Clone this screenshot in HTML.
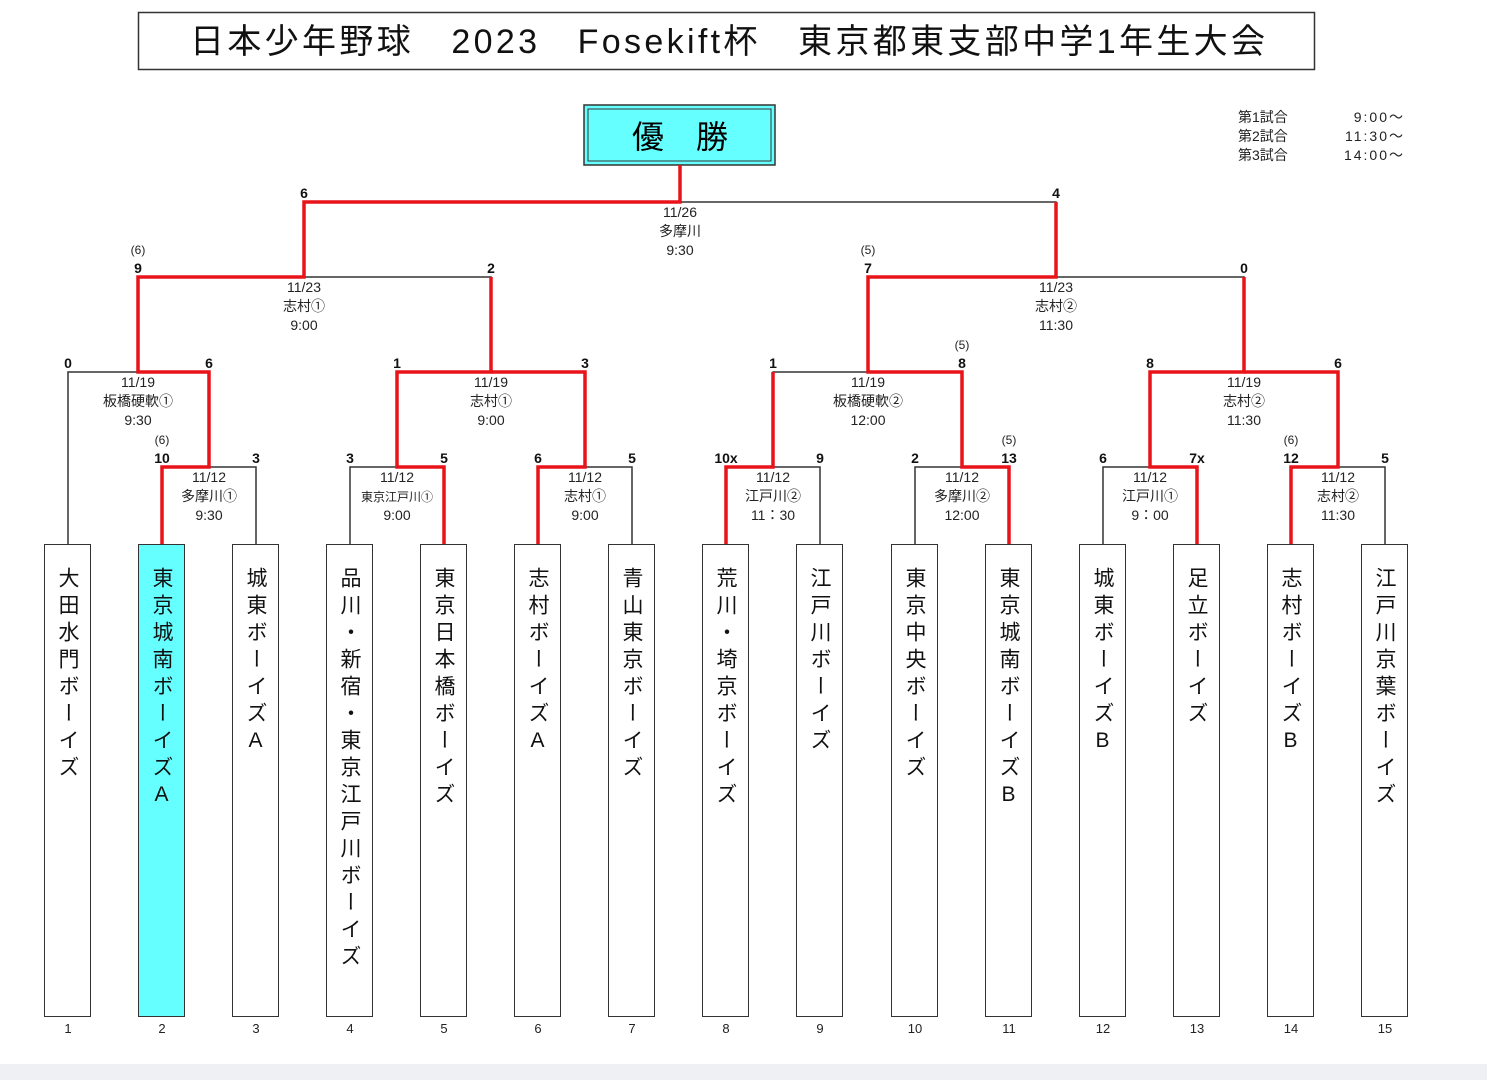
<!DOCTYPE html>
<html><head><meta charset="utf-8"><style>
body{margin:0;width:1487px;height:1080px;background:#fff;position:relative;overflow:hidden;font-family:"Liberation Sans","Noto Sans CJK JP",sans-serif;color:#111}
.box{position:absolute;top:544px;width:45px;height:471px;border:1px solid #333;background:#fff}
.box span{position:absolute;left:0;right:0;top:22px;margin:auto;writing-mode:vertical-rl;text-orientation:upright;font-size:21px;letter-spacing:6px;line-height:45px;width:45px;color:#111}
.cy{background:#6ff}
svg{position:absolute;left:0;top:0}
</style></head><body>
<div style="position:absolute;left:0;top:1064px;width:1487px;height:16px;background:#eef0f4"></div>
<svg width="1487" height="1080" font-family="Liberation Sans, Noto Sans CJK JP, sans-serif">
<rect x="138.5" y="12.5" width="1176" height="57" fill="#fff" stroke="#333" stroke-width="1.5"/>
<text x="190" y="53" font-size="34" textLength="1075" lengthAdjust="spacing" fill="#111">日本少年野球　2023　Fosekift杯　東京都東支部中学1年生大会</text>
<rect x="584" y="105" width="191" height="60" fill="#6ff" stroke="#333" stroke-width="1.5"/>
<rect x="588" y="109" width="183" height="52" fill="none" stroke="#333" stroke-width="1"/>
<text x="680" y="148" font-size="32" text-anchor="middle">優　勝</text>
<g font-size="14" fill="#222">
<text x="1238" y="122">第1試合</text><text x="1238" y="141">第2試合</text><text x="1238" y="160">第3試合</text>
<text x="1405" y="122" text-anchor="end" letter-spacing="2">9:00～</text><text x="1405" y="141" text-anchor="end" letter-spacing="2">11:30～</text><text x="1405" y="160" text-anchor="end" letter-spacing="2">14:00～</text>
</g>
<g fill="none" stroke="#333" stroke-width="1.5">
<path d="M162 544V467H256V544M350 544V467H444V544M538 544V467H632V544M726 544V467H820V544M915 544V467H1009V544M1103 544V467H1197V544M1291 544V467H1385V544"/>
<path d="M68 544V372H209V467M397 467V372H585V467M773 467V372H962V467M1150 467V372H1338V467"/>
<path d="M138 372V277H491V372M868 372V277H1244V372M304 277V202H1056V277M680 202V165"/>
</g>
<g fill="none" stroke="#e8141a" stroke-width="3.5">
<path d="M162 544V467H209V372H138V277H304V202H680V165"/>
<path d="M444 544V467H397V372H491V277"/>
<path d="M538 544V467H585V372H491"/>
<path d="M726 544V467H773V372"/>
<path d="M1009 544V467H962V372H868V277H1056V202"/>
<path d="M1197 544V467H1150V372H1244V277"/>
<path d="M1291 544V467H1338V372H1244"/>
</g>
<g font-size="14" font-weight="bold" text-anchor="middle" fill="#111">
<text x="304" y="198">6</text><text x="1056" y="198">4</text>
<text x="138" y="273">9</text><text x="491" y="273">2</text><text x="868" y="273">7</text><text x="1244" y="273">0</text>
<text x="68" y="368">0</text><text x="209" y="368">6</text><text x="397" y="368">1</text><text x="585" y="368">3</text><text x="773" y="368">1</text><text x="962" y="368">8</text><text x="1150" y="368">8</text><text x="1338" y="368">6</text>
<text x="162" y="463">10</text><text x="256" y="463">3</text><text x="350" y="463">3</text><text x="444" y="463">5</text><text x="538" y="463">6</text><text x="632" y="463">5</text><text x="726" y="463">10x</text><text x="820" y="463">9</text><text x="915" y="463">2</text><text x="1009" y="463">13</text><text x="1103" y="463">6</text><text x="1197" y="463">7x</text><text x="1291" y="463">12</text><text x="1385" y="463">5</text>
</g>
<g font-size="12" text-anchor="middle" fill="#222">
<text x="138" y="254">(6)</text><text x="868" y="254">(5)</text><text x="962" y="349">(5)</text>
<text x="162" y="444">(6)</text><text x="1009" y="444">(5)</text><text x="1291" y="444">(6)</text>
</g>
<g font-size="14" text-anchor="middle" fill="#222">
<text x="680" y="217">11/26</text><text x="680" y="236">多摩川</text><text x="680" y="255">9:30</text>
<text x="304" y="292">11/23</text><text x="304" y="311">志村①</text><text x="304" y="330">9:00</text>
<text x="1056" y="292">11/23</text><text x="1056" y="311">志村②</text><text x="1056" y="330">11:30</text>
<text x="138" y="387">11/19</text><text x="138" y="406">板橋硬軟①</text><text x="138" y="425">9:30</text>
<text x="491" y="387">11/19</text><text x="491" y="406">志村①</text><text x="491" y="425">9:00</text>
<text x="868" y="387">11/19</text><text x="868" y="406">板橋硬軟②</text><text x="868" y="425">12:00</text>
<text x="1244" y="387">11/19</text><text x="1244" y="406">志村②</text><text x="1244" y="425">11:30</text>
<text x="209" y="482">11/12</text><text x="209" y="501">多摩川①</text><text x="209" y="520">9:30</text>
<text x="397" y="482">11/12</text><text x="397" y="501" font-size="12">東京江戸川①</text><text x="397" y="520">9:00</text>
<text x="585" y="482">11/12</text><text x="585" y="501">志村①</text><text x="585" y="520">9:00</text>
<text x="773" y="482">11/12</text><text x="773" y="501">江戸川②</text><text x="773" y="520">11：30</text>
<text x="962" y="482">11/12</text><text x="962" y="501">多摩川②</text><text x="962" y="520">12:00</text>
<text x="1150" y="482">11/12</text><text x="1150" y="501">江戸川①</text><text x="1150" y="520">9：00</text>
<text x="1338" y="482">11/12</text><text x="1338" y="501">志村②</text><text x="1338" y="520">11:30</text>
</g>
<g font-size="13" text-anchor="middle" fill="#222">
<text x="68" y="1033">1</text><text x="162" y="1033">2</text><text x="256" y="1033">3</text><text x="350" y="1033">4</text><text x="444" y="1033">5</text><text x="538" y="1033">6</text><text x="632" y="1033">7</text><text x="726" y="1033">8</text><text x="820" y="1033">9</text><text x="915" y="1033">10</text><text x="1009" y="1033">11</text><text x="1103" y="1033">12</text><text x="1197" y="1033">13</text><text x="1291" y="1033">14</text><text x="1385" y="1033">15</text>
</g>
</svg>
<div class="box" style="left:44px"><span>大田水門ボーイズ</span></div>
<div class="box cy" style="left:138px"><span>東京城南ボーイズA</span></div>
<div class="box" style="left:232px"><span>城東ボーイズA</span></div>
<div class="box" style="left:326px"><span>品川・新宿・東京江戸川ボーイズ</span></div>
<div class="box" style="left:420px"><span>東京日本橋ボーイズ</span></div>
<div class="box" style="left:514px"><span>志村ボーイズA</span></div>
<div class="box" style="left:608px"><span>青山東京ボーイズ</span></div>
<div class="box" style="left:702px"><span>荒川・埼京ボーイズ</span></div>
<div class="box" style="left:796px"><span>江戸川ボーイズ</span></div>
<div class="box" style="left:891px"><span>東京中央ボーイズ</span></div>
<div class="box" style="left:985px"><span>東京城南ボーイズB</span></div>
<div class="box" style="left:1079px"><span>城東ボーイズB</span></div>
<div class="box" style="left:1173px"><span>足立ボーイズ</span></div>
<div class="box" style="left:1267px"><span>志村ボーイズB</span></div>
<div class="box" style="left:1361px"><span>江戸川京葉ボーイズ</span></div>
</body></html>
